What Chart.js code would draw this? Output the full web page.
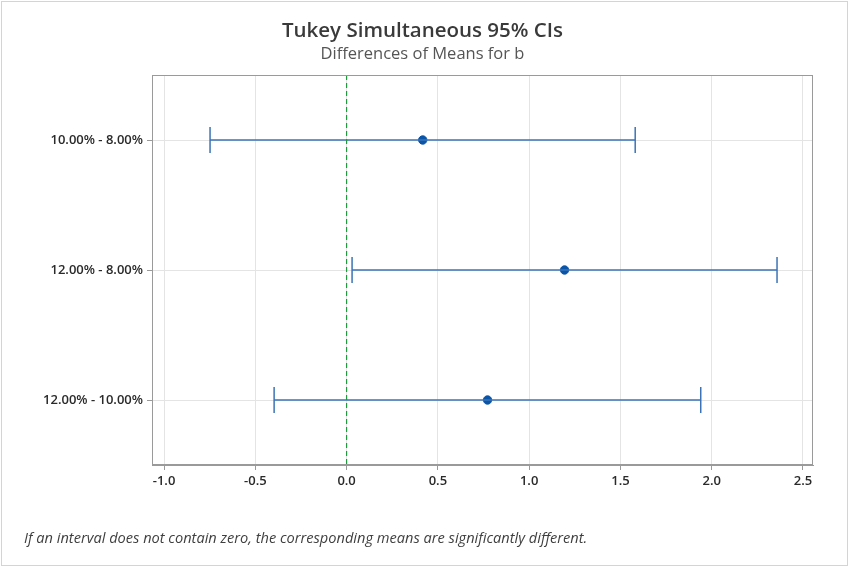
<!DOCTYPE html>
<html>
<head>
<meta charset="utf-8">
<script src="https://cdn.jsdelivr.net/npm/chart.js@4"></script>
<style>
  html, body { margin: 0; padding: 0; background: #fff; }
  #wrap { position: relative; width: 851px; height: 567px; font-family: "Open Sans", "Noto Sans", sans-serif; }
  #frame { position: absolute; left: 1px; top: 1px; width: 845px; height: 563px; border: 1px solid #d4d4d4; }
  #chart { position: absolute; left: 0; top: 0; }
  .title { position: absolute; left: 0; width: 845px; text-align: center; white-space: nowrap; }
  #t1 { top: 15px; font-size: 20.5px; font-weight: 600; color: #3a3a3a; }
  #t2 { top: 41px; font-size: 16.5px; color: #555; }
  #note { position: absolute; left: 24px; top: 527px; font-size: 14.6px; font-style: italic; color: #3f3f3f; white-space: nowrap; }
</style>
</head>
<body>
<div id="wrap">
  <div id="frame"></div>
  <canvas id="chart" width="851" height="567"></canvas>
  <div class="title" id="t1">Tukey Simultaneous 95% CIs</div>
  <div class="title" id="t2">Differences of Means for b</div>
  <div id="note">If an interval does not contain zero, the corresponding means are significantly different.</div>
</div>
<script>
// Pairwise comparisons, top to bottom
const comparisons = ['10.00% - 8.00%', '12.00% - 8.00%', '12.00% - 10.00%'];
const meanDiff = [0.417, 1.194, 0.772];
const lowerCI = [-0.748, 0.030, -0.397];
const upperCI = [1.581, 2.358, 1.940];
const xTicks = [-1.0, -0.5, 0.0, 0.5, 1.0, 1.5, 2.0, 2.5];

const barColor = '#3a73b8';
const dotColor = '#0a55a8';

const datasets = [];

// zero reference line
datasets.push({
    type: 'line',
    data: [{ x: 0, y: 0.5 }, { x: 0, y: 3.5 }],
    borderColor: '#1f9a3c',
    borderWidth: 1.2,
    borderDash: [5, 3],
    pointRadius: 0,
    clip: false,
});

// interval lines with end caps
comparisons.forEach((name, i) => {
    datasets.push({
        type: 'line',
        label: name,
        data: [{ x: lowerCI[i], y: i + 1 }, { x: upperCI[i], y: i + 1 }],
        borderColor: barColor,
        borderWidth: 1.3,
        pointStyle: 'line',
        rotation: 90,
        pointRadius: 13,
        pointBorderColor: barColor,
        pointBorderWidth: 1.5,
    });
});

// mean differences
datasets.push({
    type: 'scatter',
    data: meanDiff.map((v, i) => ({ x: v, y: i + 1 })),
    backgroundColor: dotColor,
    borderColor: dotColor,
    pointRadius: 4.2,
});

const plotFrame = {
    id: 'plotFrame',
    afterDatasetsDraw(chart) {
        const { ctx, chartArea } = chart;
        ctx.save();
        ctx.strokeStyle = '#9a9a9a';
        ctx.lineWidth = 1;
        ctx.strokeRect(chartArea.left + 0.5, chartArea.top + 0.5,
            chartArea.right - chartArea.left - 1, chartArea.bottom - chartArea.top - 1);
        ctx.restore();
    },
};

const tickFont = { family: 'Open Sans', size: 13, weight: '600' };

new Chart(document.getElementById('chart'), {
    data: { datasets },
    options: {
        responsive: false,
        animation: false,
        events: [],
        layout: { padding: { left: 0, right: 38, top: 75, bottom: 0 } },
        plugins: { legend: { display: false }, tooltip: { enabled: false } },
        scales: {
            x: {
                type: 'linear',
                min: -1.066,
                max: 2.555,
                afterBuildTicks: (scale) => { scale.ticks = xTicks.map(v => ({ value: v })); },
                afterFit: (scale) => { scale.height = 102; },
                grid: { color: '#e4e4e4', tickColor: '#9a9a9a', tickLength: 5 },
                border: { color: '#9a9a9a' },
                ticks: {
                    color: '#2a2a2a',
                    font: tickFont,
                    padding: 3,
                    callback: (v) => v.toFixed(1),
                },
            },
            y: {
                type: 'linear',
                reverse: true,
                min: 0.5,
                max: 3.5,
                afterBuildTicks: (scale) => { scale.ticks = comparisons.map((c, i) => ({ value: i + 1 })); },
                afterFit: (scale) => { scale.width = 152; },
                grid: { color: '#e4e4e4', tickColor: '#9a9a9a', tickLength: 5 },
                border: { color: '#9a9a9a' },
                ticks: {
                    color: '#2a2a2a',
                    font: tickFont,
                    padding: 4,
                    callback: (v) => comparisons[v - 1],
                },
            },
        },
    },
    plugins: [plotFrame],
});
</script>
</body>
</html>
